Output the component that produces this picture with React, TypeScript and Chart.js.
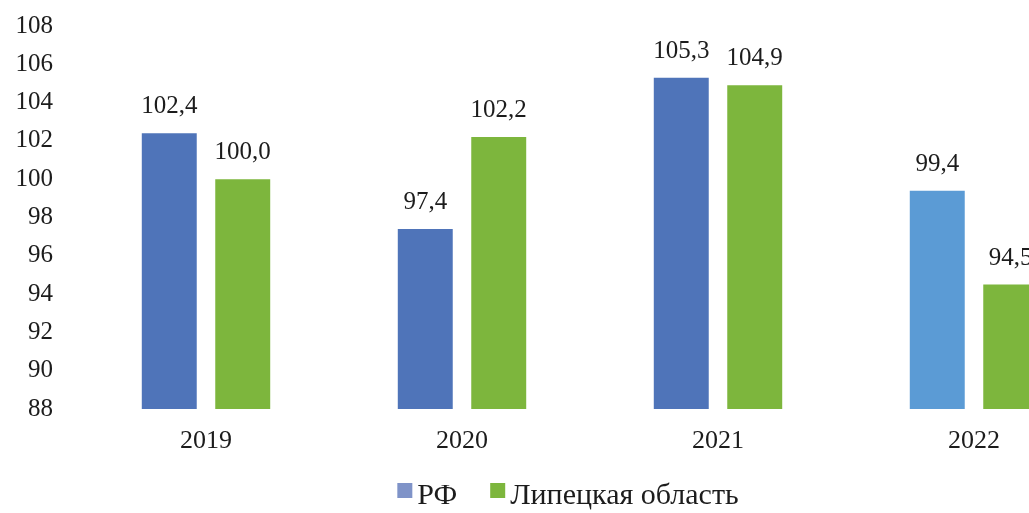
import React, { useEffect, useRef } from "react";
import { Chart, registerables } from "chart.js";

Chart.register(...registerables);

const categories = ["2019", "2020", "2021", "2022"];
const seriesNames = ["РФ", "Липецкая область"];
const rfValues = [102.4, 97.4, 105.3, 99.4];
const lipetskValues = [100.0, 102.2, 104.9, 94.5];
const rfColors = ["#4f74b9", "#4f74b9", "#4f74b9", "#5b9bd5"];
const rfLegendColor = "#7f93c8";
const lipetskColor = "#7db63d";
const yMin = 88;
const yMax = 108;
const yStep = 2;

const FONT = "'Liberation Serif', 'Times New Roman', serif";
const TEXT = "#1c1c1c";

const fmt = (v: number) => v.toFixed(1).replace(".", ",");

const valueLabels = {
  id: "valueLabels",
  afterDatasetsDraw(chart: any) {
    const ctx = chart.ctx;
    ctx.save();
    ctx.font = `25px ${FONT}`;
    ctx.fillStyle = TEXT;
    ctx.textAlign = "center";
    ctx.textBaseline = "alphabetic";
    chart.data.datasets.forEach((ds: any, di: number) => {
      const meta = chart.getDatasetMeta(di);
      meta.data.forEach((el: any, i: number) => {
        ctx.fillText(fmt(ds.data[i]), el.x, el.y - 20);
      });
    });
    ctx.restore();
  },
};

const customLegend = {
  id: "customLegend",
  afterDraw(chart: any) {
    const ctx = chart.ctx;
    ctx.save();
    ctx.font = `30px ${FONT}`;
    ctx.textBaseline = "alphabetic";
    ctx.textAlign = "left";
    const colors = [rfLegendColor, lipetskColor];
    const box = 15;
    const gapBoxText = 5;
    const gapItems = 33;
    const widths = seriesNames.map((n) => ctx.measureText(n).width);
    const total =
      widths.reduce((a, w) => a + box + gapBoxText + w, 0) + gapItems * (seriesNames.length - 1);
    const centerX = 568;
    let x = centerX - total / 2;
    const baseline = 504;
    seriesNames.forEach((n, i) => {
      ctx.fillStyle = colors[i];
      ctx.fillRect(x, baseline - 21, box, box);
      x += box + gapBoxText;
      ctx.fillStyle = TEXT;
      ctx.fillText(n, x, baseline);
      x += widths[i] + gapItems;
    });
    ctx.restore();
  },
};

export default function App() {
  const ref = useRef<HTMLCanvasElement | null>(null);
  useEffect(() => {
    if (!ref.current) return;
    const chart = new Chart(ref.current, {
      type: "bar",
      data: {
        labels: categories,
        datasets: [
          {
            label: seriesNames[0],
            data: rfValues,
            backgroundColor: rfColors,
            borderWidth: 0,
            categoryPercentage: 0.574,
            barPercentage: 0.748,
          },
          {
            label: seriesNames[1],
            data: lipetskValues,
            backgroundColor: lipetskColor,
            borderWidth: 0,
            categoryPercentage: 0.574,
            barPercentage: 0.748,
          },
        ],
      },
      options: {
        responsive: false,
        animation: false,
        devicePixelRatio: 1,
        layout: { padding: { left: 0, right: 34, top: 26, bottom: 0 } },
        plugins: {
          legend: { display: false },
          tooltip: { enabled: false },
        },
        scales: {
          x: {
            grid: { display: false, drawTicks: false },
            border: { display: false },
            ticks: {
              font: { family: FONT, size: 26 },
              color: TEXT,
              padding: 17,
            },
            afterFit: (s: any) => {
              s.height = 104;
              s.paddingLeft = 0;
              s.paddingRight = 0;
            },
          },
          y: {
            min: yMin,
            max: yMax,
            grid: { display: false, drawTicks: false },
            border: { display: false },
            ticks: {
              stepSize: yStep,
              font: { family: FONT, size: 25 },
              color: TEXT,
              padding: 25,
            },
            afterFit: (s: any) => {
              s.width = 78;
              s.paddingTop = 0;
              s.paddingBottom = 0;
            },
          },
        },
      },
      plugins: [valueLabels, customLegend],
    });
    return () => chart.destroy();
  }, []);
  return (
    <div
      style={{
        position: "fixed",
        left: 0,
        top: 0,
        width: 1029,
        height: 513,
        overflow: "hidden",
        background: "#fff",
      }}
    >
      <canvas ref={ref} width={1136} height={513} style={{ display: "block" }} />
    </div>
  );
}
